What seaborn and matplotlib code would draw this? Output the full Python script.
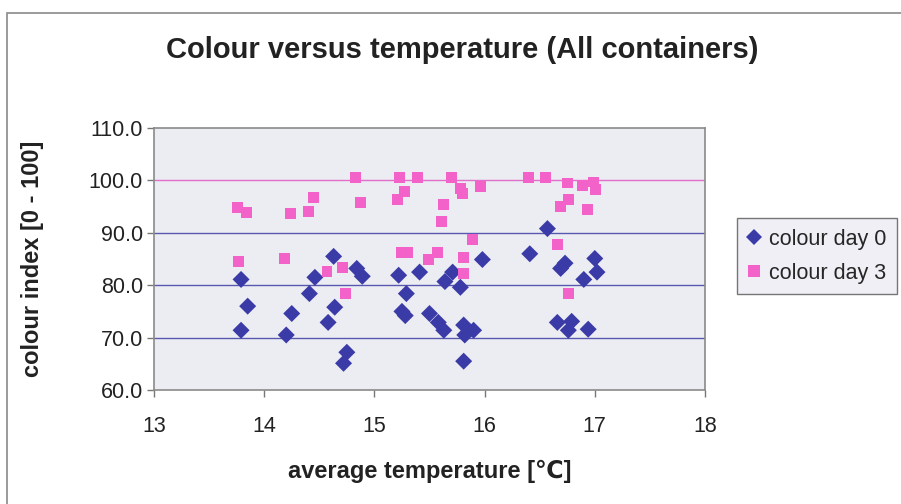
import matplotlib
matplotlib.use("Agg")
import matplotlib.pyplot as plt
import seaborn as sns
import pandas as pd
from matplotlib.lines import Line2D
from matplotlib.patches import Rectangle

# Colour index measured on day 0, by container average temperature
temp_day0 = [13.79, 13.85, 13.79, 14.20, 14.25, 14.41, 14.46, 14.58, 14.64, 14.63,
             14.84, 14.89, 14.75, 14.72, 15.22, 15.29, 15.25, 15.28, 15.41, 15.50,
             15.58, 15.63, 15.64, 15.71, 15.78, 15.81, 15.90, 15.82, 15.81, 15.98,
             16.41, 16.57, 16.73, 16.69, 17.00, 17.02, 16.90, 16.66, 16.79, 16.76,
             16.94]
colour_day0 = [81.1, 76.0, 71.4, 70.5, 74.6, 78.4, 81.5, 72.9, 75.8, 85.5,
               83.2, 81.7, 67.2, 65.1, 81.9, 78.4, 75.0, 74.2, 82.5, 74.6,
               72.9, 71.4, 80.7, 82.5, 79.6, 72.4, 71.4, 70.5, 65.5, 84.9,
               86.0, 90.8, 84.2, 83.2, 85.1, 82.5, 81.1, 72.9, 73.1, 71.4,
               71.6]

# Colour index measured on day 3
temp_day3 = [13.76, 13.84, 14.24, 14.40, 14.45, 13.77, 14.18, 14.57, 14.71, 14.74,
             14.83, 14.87, 15.23, 15.39, 15.70, 15.27, 15.21, 15.78, 15.80, 15.96,
             15.63, 15.61, 15.89, 15.25, 15.30, 15.57, 15.49, 15.81, 15.81,
             16.40, 16.55, 16.75, 16.89, 16.99, 17.01, 16.76, 16.69, 16.93, 16.66,
             16.76]
colour_day3 = [94.8, 93.9, 93.6, 94.0, 96.7, 84.5, 85.1, 82.7, 83.4, 78.4,
               100.5, 95.7, 100.5, 100.5, 100.5, 97.8, 96.3, 98.5, 97.5, 98.8,
               95.4, 92.1, 88.7, 86.2, 86.3, 86.2, 84.9, 85.3, 82.3,
               100.5, 100.5, 99.5, 99.0, 99.7, 98.2, 96.3, 95.0, 94.4, 87.8,
               78.4]

series_names = ["colour day 0", "colour day 3"]
x_ticks = [13, 14, 15, 16, 17, 18]
y_ticks = [60, 70, 80, 90, 100, 110]

df = pd.concat([
    pd.DataFrame({"temp": temp_day0, "colour": colour_day0, "series": series_names[0]}),
    pd.DataFrame({"temp": temp_day3, "colour": colour_day3, "series": series_names[1]}),
], ignore_index=True)

BLUE = "#3b3ba8"
PINK = "#f262c9"
FONT = ["Liberation Sans", "DejaVu Sans"]

sns.set_theme(style="white")
plt.rcParams["font.family"] = FONT

fig = plt.figure(figsize=(9.01, 5.04), dpi=100)
ax = fig.add_axes([154 / 901, 1 - 390 / 504, 551 / 901, 262 / 504])
ax.set_facecolor("#ececf3")

# horizontal gridlines
for v in [70, 80, 90]:
    ax.axhline(v, color="#5858b0", lw=1.0, zorder=1)
ax.axhline(100, color="#e070c8", lw=1.0, zorder=1)

sns.scatterplot(data=df[df.series == series_names[0]], x="temp", y="colour",
                marker="D", s=75, color=BLUE, edgecolor="none", ax=ax,
                legend=False, zorder=3)
sns.scatterplot(data=df[df.series == series_names[1]], x="temp", y="colour",
                marker="s", s=62, color=PINK, edgecolor="none", ax=ax,
                legend=False, zorder=3)

ax.set_xlim(13, 18)
ax.set_ylim(60, 110)
ax.set_xticks(x_ticks)
ax.set_yticks(y_ticks)
ax.set_xticklabels([str(t) for t in x_ticks], fontsize=15.5, color="#222222")
ax.set_yticklabels([f"{t:.1f}" for t in y_ticks], fontsize=15.5, color="#222222")
ax.tick_params(axis="both", direction="out", length=5, width=1.0, color="#777777",
               bottom=True, left=True)
ax.tick_params(axis="x", pad=14)
ax.tick_params(axis="y", pad=3)
for side, sp in ax.spines.items():
    sp.set_color("#8a8a8a")
    sp.set_linewidth(1.2)

ax.set_xlabel("average temperature [\u2103]", fontsize=17, fontweight="bold",
              color="#222222", labelpad=16)
ax.set_ylabel("colour index [0 - 100]", fontsize=17, fontweight="bold",
              color="#222222", labelpad=32)

fig.text(462 / 901, 1 - 50 / 504, "Colour versus temperature (All containers)",
         ha="center", va="center", fontsize=21, fontweight="bold", color="#222222")

handles = [
    Line2D([], [], marker="D", linestyle="none", markersize=8, color=BLUE,
           markeredgewidth=0, label=series_names[0]),
    Line2D([], [], marker="s", linestyle="none", markersize=9, color=PINK,
           markeredgewidth=0, label=series_names[1]),
]
leg = fig.legend(handles=handles, loc="upper left",
                 bbox_to_anchor=(737 / 901, 1 - 218 / 504), borderaxespad=0,
                 frameon=True, fontsize=15.5, handlelength=0.6,
                 handletextpad=0.4, borderpad=0.5, labelspacing=0.6,
                 fancybox=False)
leg.get_frame().set_edgecolor("#555555")
leg.get_frame().set_facecolor("#ececf3")
leg.get_frame().set_linewidth(1.0)

# outer chart frame
fig.patches.append(Rectangle((7 / 901, -0.05), 1.1, 1 - 13 / 504 + 0.05,
                             transform=fig.transFigure, fill=False,
                             edgecolor="#8a8a8a", lw=1.2, zorder=0))

fig.savefig("out.png", dpi=100)
